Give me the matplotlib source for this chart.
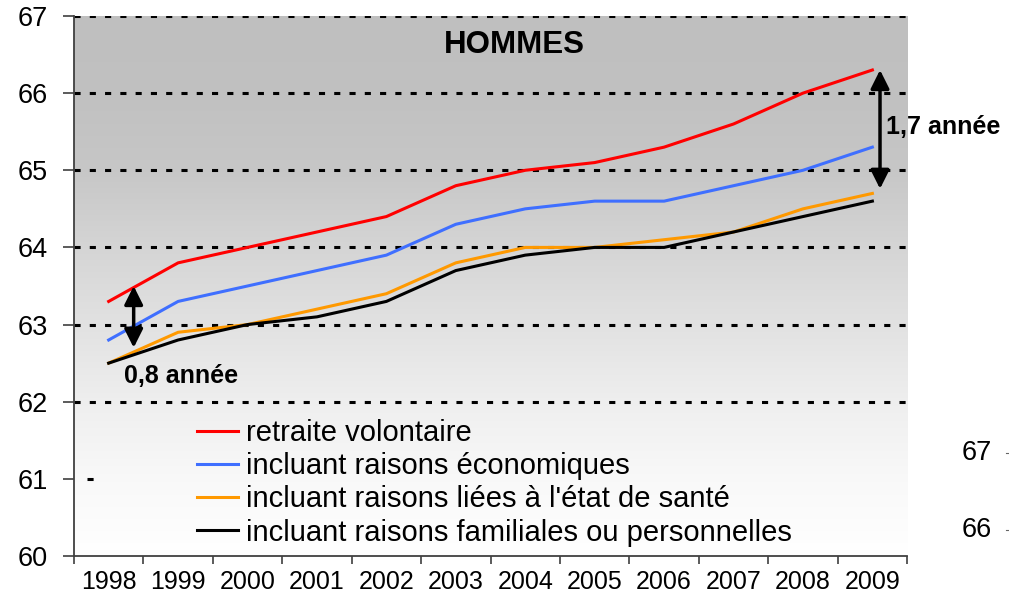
import numpy as np
import matplotlib
matplotlib.use("Agg")
import matplotlib.pyplot as plt
from matplotlib.colors import LinearSegmentedColormap
from matplotlib.lines import Line2D

# Données
annees = ["1998", "1999", "2000", "2001", "2002", "2003",
          "2004", "2005", "2006", "2007", "2008", "2009"]
retraite_volontaire = [63.3, 63.8, 64.0, 64.2, 64.4, 64.8, 65.0, 65.1, 65.3, 65.6, 66.0, 66.3]
raisons_eco = [62.8, 63.3, 63.5, 63.7, 63.9, 64.3, 64.5, 64.6, 64.6, 64.8, 65.0, 65.3]
raisons_sante = [62.5, 62.9, 63.0, 63.2, 63.4, 63.8, 64.0, 64.0, 64.1, 64.2, 64.5, 64.7]
raisons_familiales = [62.5, 62.8, 63.0, 63.1, 63.3, 63.7, 63.9, 64.0, 64.0, 64.2, 64.4, 64.6]
libelles = ["retraite volontaire",
            "incluant raisons économiques",
            "incluant raisons liées à l'état de santé",
            "incluant raisons familiales ou personnelles"]
couleurs = ["#ff0000", "#3f6fff", "#ff9900", "#000000"]

plt.rcParams["font.family"] = ["Liberation Sans", "DejaVu Sans"]

fig = plt.figure(figsize=(10.09, 5.97), dpi=100)
ax = fig.add_axes([0.0733, 0.0687, 0.8257, 0.9045])

x = np.arange(len(annees))
ax.set_xlim(-0.5, len(annees) - 0.5)
ax.set_ylim(60, 67)

# fond en dégradé gris -> blanc
stops = [(0.0, (1, 1, 1)), (1 / 7, (0.975, 0.975, 0.975)), (2 / 7, (0.935, 0.935, 0.935)),
         (3 / 7, (0.885, 0.885, 0.885)), (4 / 7, (0.835, 0.835, 0.835)),
         (5 / 7, (0.78, 0.78, 0.78)), (6 / 7, (0.755, 0.755, 0.755)), (1.0, (0.75, 0.75, 0.75))]
cmap = LinearSegmentedColormap.from_list("fond", stops)
grad = np.linspace(0, 1, 256).reshape(-1, 1)
ax.imshow(grad, cmap=cmap, origin="lower", aspect="auto",
          extent=(-0.5, len(annees) - 0.5, 60, 67), zorder=0)

# grille en pointillés (la ligne 61 est masquée par la légende)
for yv in range(62, 68):
    ax.axhline(yv, color="black", lw=2.2, dashes=(2, 3), zorder=1)
ax.axhline(61, xmin=0.016, xmax=0.024, color="black", lw=2.2, dashes=(2, 3), zorder=1)

series = [retraite_volontaire, raisons_eco, raisons_sante, raisons_familiales]
for y, c, lab in zip(series, couleurs, libelles):
    ax.plot(x, y, color=c, lw=2.2, label=lab, zorder=3)

# flèches d'écart
ax.annotate("", xy=(0.36, 63.5), xytext=(0.36, 62.7),
            arrowprops=dict(arrowstyle="<|-|>", color="black", lw=2.5,
                            mutation_scale=28, shrinkA=0, shrinkB=0), zorder=4)
ax.annotate("", xy=(11.11, 66.3), xytext=(11.11, 64.76),
            arrowprops=dict(arrowstyle="<|-|>", color="black", lw=2.5,
                            mutation_scale=28, shrinkA=0, shrinkB=0),
            annotation_clip=False, zorder=4)
ax.text(0.22, 62.33, "0,8 année", fontsize=18, fontweight="bold", va="center", ha="left")
ax.text(11.2, 65.56, "1,7 année", fontsize=18, fontweight="bold", va="center", ha="left",
        clip_on=False)
ax.text(5.85, 66.63, "HOMMES", fontsize=22.5, fontweight="bold", va="center", ha="center")

# axes
for s in ["top", "right"]:
    ax.spines[s].set_visible(False)
for s in ["left", "bottom"]:
    ax.spines[s].set_color("#404040")
    ax.spines[s].set_linewidth(1.3)
ax.set_yticks(range(60, 68))
ax.tick_params(axis="y", length=8, width=1.2, pad=11, labelsize=19.5, color="#404040")
ax.set_xticks(x)
ax.set_xticklabels(annees)
ax.set_xticks(np.arange(-0.5, len(annees)), minor=True)
ax.tick_params(axis="x", which="major", length=0, pad=10, labelsize=18)
ax.tick_params(axis="x", which="minor", length=6, width=1.2, color="#404040")

leg = ax.legend(loc="upper left", bbox_to_anchor=(0.148, 0.254), frameon=False,
                fontsize=21, handlelength=1.38, handletextpad=0.28, labelspacing=0.18,
                borderpad=0, borderaxespad=0)

# restes d'un autre graphique à droite
fig.text(0.983, 0.241, "67", fontsize=19.5, ha="right", va="center")
fig.text(0.983, 0.112, "66", fontsize=19.5, ha="right", va="center")
for yf in [0.241, 0.112]:
    fig.add_artist(Line2D([0.997, 1.0], [yf, yf], color="#666666", lw=0.8,
                          transform=fig.transFigure))

fig.savefig("out.png", dpi=100)
